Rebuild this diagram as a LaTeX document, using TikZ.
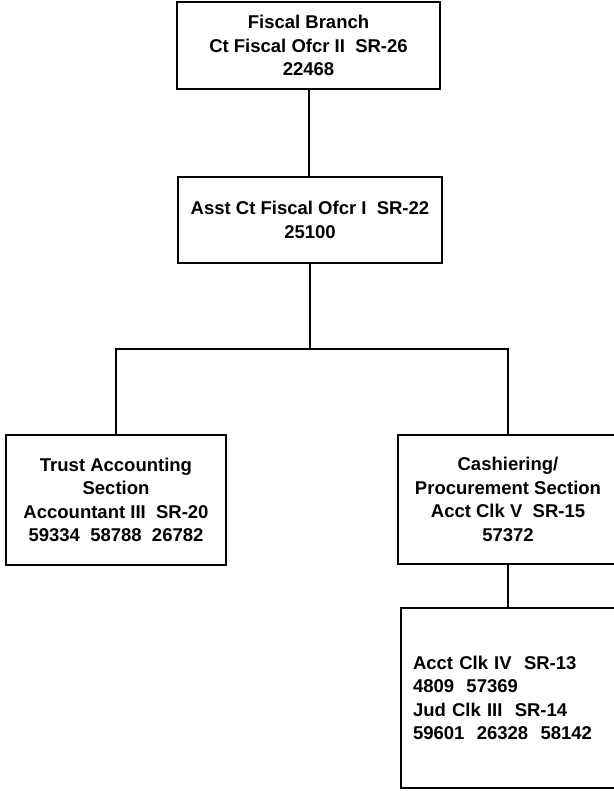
\documentclass[tikz,border=0pt]{standalone}
\usepackage{fontspec}
\setmainfont{Liberation Sans}
\begin{document}
\begin{tikzpicture}[x=1pt,y=-1pt,
  box/.style={draw=black,line width=2.6pt,inner sep=0pt,align=center,
    font=\fontsize{18.5}{23.5}\selectfont\bfseries},
  conn/.style={draw=black,line width=2pt}]
\useasboundingbox (0,0) rectangle (613,791);
\node[box,minimum width=263pt,minimum height=87pt] (top) at (308.5,45.5)
  {Fiscal Branch\\Ct Fiscal Ofcr II\ \ SR-26\\22468};
\node[box,minimum width=264pt,minimum height=86pt] (asst) at (310,220)
  {Asst Ct Fiscal Ofcr I\ \ SR-22\\25100};
\node[box,minimum width=220pt,minimum height=130pt] (trust) at (116,500)
  {Trust Accounting\\Section\\Accountant III\ \ SR-20\\59334\ \ 58788\ \ 26782};
\node[box,minimum width=220pt,minimum height=129pt] (cash) at (508,499.5)
  {Cashiering/\\Procurement Section\\Acct Clk V\ \ SR-15\\57372};
\node[box,minimum width=217pt,minimum height=180pt,text width=193pt,align=left,inner xsep=12pt] (clk) at (509.5,698)
  {Acct Clk IV\ \ SR-13\\4809\ \ 57369\\Jud Clk III\ \ SR-14\\59601\ \ 26328\ \ 58142};
\coordinate (bar) at (310,349);
\draw[conn] (top.south) -- (top.south |- asst.north);
\draw[conn] (asst.south) -- (bar);
\draw[conn] (trust.north) -- (trust.north |- bar) -| (cash.north);
\draw[conn] (cash.south) -- (cash.south |- clk.north);
\end{tikzpicture}
\end{document}
